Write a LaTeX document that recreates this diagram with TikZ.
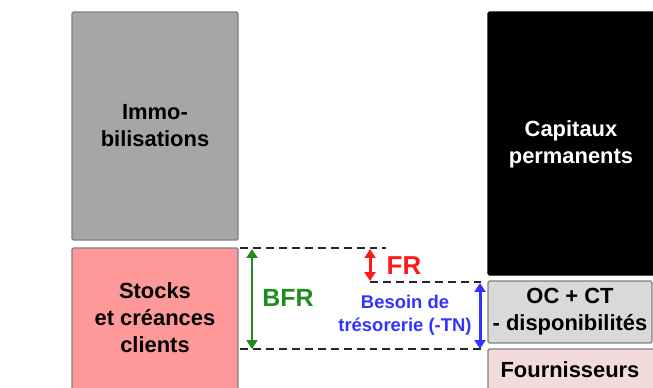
\documentclass[tikz,border=0pt]{standalone}
\usepackage{fontspec}
\setmainfont{Liberation Sans}
\usetikzlibrary{arrows.meta}
\definecolor{immogray}{HTML}{A6A6A6}
\definecolor{stockpink}{HTML}{FF9999}
\definecolor{ocgray}{HTML}{D9D9D9}
\definecolor{fournpink}{HTML}{F2DCDB}
\definecolor{edgegray}{HTML}{7F7F7F}
\definecolor{bfrgreen}{HTML}{1E8C1E}
\definecolor{frred}{HTML}{FF1A1A}
\definecolor{tnblue}{HTML}{3333FF}
\tikzset{
  block/.style={draw=edgegray, line width=1.4pt, rounded corners=1.5pt},
  lbl/.style={font=\fontsize{22}{27}\selectfont\bfseries, align=center, inner sep=0pt},
  guide/.style={black!85, line width=2.8pt, dash pattern=on 8pt off 5pt},
  span/.style={line width=3pt, {Triangle[length=9pt,width=11pt]}-{Triangle[length=9pt,width=11pt]}}
}
\begin{document}
\begin{tikzpicture}[x=1bp,y=-1bp]
\useasboundingbox (0,0) rectangle (653,387);
\begin{scope}
\clip (0,0) rectangle (653,387);
% asset side
\draw[block, fill=immogray] (72,12) rectangle (238,240);
\draw[block, fill=stockpink] (72,248) rectangle (238,395);
% liability side
\draw[block, draw=black, fill=black] (488,12) rectangle (662,275);
\draw[block, fill=ocgray] (488,281) rectangle (652,343);
\draw[block, fill=fournpink] (488,349) rectangle (662,395);
\end{scope}
\node[lbl] (immo) at (155,126) {Immo-\\bilisations};
\node[lbl] (stocks) at (155,318) {Stocks\\et créances\\clients};
\node[lbl, text=white] (cap) at (571,144) {Capitaux\\permanents};
\node[lbl] (oc) at (570,312) {OC + CT\\- disponibilités};
\node[lbl] (fourn) at (570,370) {Fournisseurs};
% dashed guide lines
\coordinate (tl) at (240,248);
\coordinate (tr) at (386,248);
\coordinate (ml) at (370,282);
\coordinate (mr) at (481,282);
\coordinate (bl) at (240,349);
\coordinate (br) at (481,349);
\draw[guide] (tl) -- (tr);
\draw[guide] (ml) -- (mr);
\draw[guide] (bl) -- (br);
% spans
\coordinate (g1) at (252,249);
\coordinate (g2) at (252,349);
\coordinate (r1) at (370,249);
\coordinate (r2) at (370,281);
\coordinate (b1) at (480,283);
\coordinate (b2) at (480,349);
\draw[span, bfrgreen] (g1) -- (g2);
\draw[span, frred] (r1) -- (r2);
\draw[span, tnblue] (b1) -- (b2);
\node[font=\fontsize{25}{28}\selectfont\bfseries, text=bfrgreen, inner sep=0pt] (bfr) at (288,298) {BFR};
\node[font=\fontsize{26}{28}\selectfont\bfseries, text=frred, inner sep=0pt] (fr) at (404,266) {FR};
\node[font=\fontsize{18.5}{23}\selectfont\bfseries, text=tnblue, align=center, inner sep=0pt] (tn) at (405,315) {Besoin de\\trésorerie (-TN)};
\end{tikzpicture}
\end{document}
